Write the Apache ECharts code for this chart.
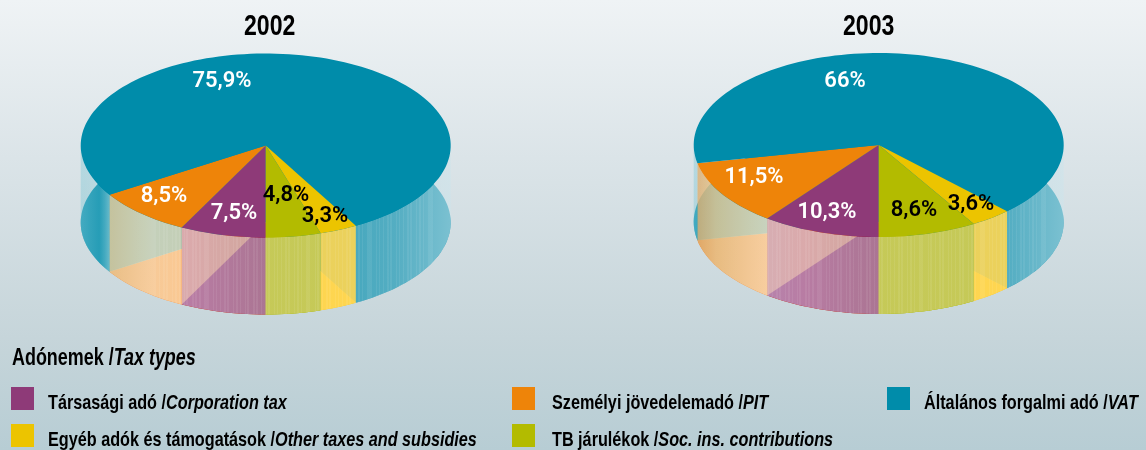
<!DOCTYPE html>
<html>
<head>
<meta charset="utf-8">
<style>html,body{margin:0;padding:0;background:#c8d6db}#c{width:1146px;height:450px}</style>
<script src="https://cdn.jsdelivr.net/npm/echarts@6/dist/echarts.min.js"></script>
</head>
<body>
<div id="c"></div>
<script>
// ---- data ----
const years = ['2002', '2003'];
const categoriesHu = ['Társasági adó', 'Személyi jövedelemadó', 'Általános forgalmi adó', 'Egyéb adók és támogatások', 'TB járulékok'];
const categoriesEn = ['Corporation tax', 'PIT', 'VAT', 'Other taxes and subsidies', 'Soc. ins. contributions'];
const values2002 = [7.5, 8.5, 75.9, 3.3, 4.8];
const values2003 = [10.3, 11.5, 66, 3.6, 8.6];
const legendTitleHu = 'Adónemek';
const legendTitleEn = 'Tax types';

// ---- styles and layout ----
const topColors = ['#8e3a78', '#ee8409', '#008caa', '#ecc400', '#b3bb00'];
const floorColors = ['rgb(150,0,30)', 'rgb(255,110,0)', 'rgb(0,140,170)', 'rgb(245,195,20)', 'rgb(175,185,20)'];
const underlayColors = { 0: 'rgb(240,120,50)', 4: 'rgb(175,185,20)' };
const labelColors = ['#fff', '#fff', '#fff', '#000', '#000'];
const FONT_LABEL = '600 22px Roboto, sans-serif';
const BOLD = '"Liberation Sans", sans-serif';
const pies = [
  { values: values2002, cx: 265.7, cy: 145.5, labels: [[222, 213], [164, 196], [222, 81], [325, 216], [286, 195]], titleX: 244 },
  { values: values2003, cx: 878.7, cy: 145, labels: [[827, 212], [754, 177], [845, 81], [971, 204], [914, 210]], titleX: 843 }
];
pies[0].labels[0][0] = 234;
const RX = 185, RY = 92, DEPTH = 77;
// wall tints over the cylinder's width (0 = left rim, 1 = right rim)
const wallStops = [
  [[0, 'rgba(193,207,255,.7)'], [.3, 'rgba(205,200,245,.62)'], [.5, 'rgba(185,195,225,.6)'], [1, 'rgba(185,195,225,.6)']],
  [[0, 'rgba(215,165,100,.85)'], [.06, 'rgba(225,195,140,.85)'], [.2, 'rgba(245,225,190,.8)'], [.3, 'rgba(250,225,185,.78)'], [1, 'rgba(250,225,185,.78)']],
  [[0, 'rgba(120,195,210,.45)'], [.05, 'rgba(90,180,200,.25)'], [.09, 'rgba(230,240,240,.6)'], [.6, 'rgba(170,205,215,.34)'], [.85, 'rgba(200,220,228,.42)'], [1, 'rgba(205,228,235,.6)']],
  [[0, 'rgba(255,215,85,.92)'], [1, 'rgba(255,215,85,.92)']],
  [[0, 'rgba(200,203,95,.9)'], [1, 'rgba(200,203,95,.9)']]
];
// irregular fine vertical streaks on the glass wall (widths as fractions of the cylinder)
const streakWidths = [.004, .007, .003, .009, .005, .002, .006, .011, .003, .005];

function edge(pie, deg, dy) {
  const r = deg * Math.PI / 180;
  return [pie.cx - RX * Math.sin(r), pie.cy + (dy || 0) + RY * Math.cos(r)];
}
function span(values, i) {
  const total = values.reduce((a, b) => a + b, 0);
  const before = values.slice(0, i).reduce((a, b) => a + b, 0);
  return [before / total * 360, (before + values[i]) / total * 360];
}
function sector(pie, a, b, dy) {
  const pts = [[pie.cx, pie.cy + (dy || 0)]];
  const n = Math.max(2, Math.ceil((b - a) / 2));
  for (let k = 0; k <= n; k++) pts.push(edge(pie, a + (b - a) * k / n, dy));
  return pts;
}
function wallPieces(a, b) {
  const out = [];
  if (a < 90) out.push([a, Math.min(b, 90)]);
  if (b > 270) out.push([Math.max(a, 270), b]);
  return out;
}
function wallPoly(pie, a, b) {
  const top = [], bottom = [];
  const n = Math.max(2, Math.ceil((b - a) / 2));
  for (let k = 0; k <= n; k++) {
    const d = a + (b - a) * k / n;
    top.push(edge(pie, d, 0));
    bottom.unshift(edge(pie, d, DEPTH));
  }
  return top.concat(bottom);
}
function wallFill(pie, i) {
  return new echarts.graphic.LinearGradient(pie.cx - RX, 0, pie.cx + RX, 0,
    wallStops[i].map(s => ({ offset: s[0], color: s[1] })), true);
}
function streakFill(pie) {
  const stops = [];
  let t = .2, k = 0;
  while (t < .96) {
    const w = streakWidths[k % streakWidths.length];
    const c = k % 2 ? 'rgba(255,255,255,0)' : 'rgba(255,255,255,.07)';
    stops.push({ offset: t, color: c }, { offset: t + w, color: c });
    t += w; k++;
  }
  return new echarts.graphic.LinearGradient(pie.cx - RX, 0, pie.cx + RX, 0, stops, true);
}

const series = [];
pies.forEach(pie => {
  const data = pie.values.map(v => [v]);
  const base = { type: 'custom', coordinateSystem: 'none', silent: true, animation: false, data };
  const floorPiece = i => {
    const s = span(pie.values, i);
    return { type: 'polygon', shape: { points: sector(pie, s[0], s[1], DEPTH) }, style: { fill: floorColors[i] } };
  };
  const none = { type: 'group', children: [] };
  // floor of the cylinder, seen through the glass wall: rear slices
  series.push(Object.assign({}, base, {
    z: 1,
    renderItem: p => (p.dataIndex === 0 || p.dataIndex === 4) ? none : floorPiece(p.dataIndex)
  }));
  // the front two walls hide what lies further back
  series.push(Object.assign({}, base, {
    z: 2,
    renderItem(p) {
      const i = p.dataIndex;
      if (i !== 0 && i !== 4) return none;
      const s = span(pie.values, i);
      return { type: 'polygon', shape: { points: wallPoly(pie, s[0], s[1]) }, style: { fill: underlayColors[i] } };
    }
  }));
  // floor: front slices
  series.push(Object.assign({}, base, {
    z: 3,
    renderItem: p => (p.dataIndex === 0 || p.dataIndex === 4) ? floorPiece(p.dataIndex) : none
  }));
  // wall
  series.push(Object.assign({}, base, {
    z: 4,
    renderItem(p) {
      const s = span(pie.values, p.dataIndex);
      const children = [];
      wallPieces(s[0], s[1]).forEach(w => {
        children.push({ type: 'polygon', shape: { points: wallPoly(pie, w[0], w[1]) }, style: { fill: wallFill(pie, p.dataIndex) } });
        children.push({ type: 'polygon', shape: { points: wallPoly(pie, w[0], w[1]) }, style: { fill: streakFill(pie) } });
      });
      return { type: 'group', children };
    }
  }));
  // top disc
  series.push(Object.assign({}, base, {
    z: 5,
    renderItem(p) {
      const s = span(pie.values, p.dataIndex);
      return { type: 'polygon', shape: { points: sector(pie, s[0], s[1], 0) }, style: { fill: topColors[p.dataIndex] } };
    }
  }));
  // percentages
  series.push(Object.assign({}, base, {
    z: 6,
    renderItem(p) {
      const i = p.dataIndex;
      return {
        type: 'text',
        style: {
          text: String(pie.values[i]).replace('.', ',') + '%',
          x: pie.labels[i][0], y: pie.labels[i][1], fill: labelColors[i],
          font: FONT_LABEL, textAlign: 'center', textVerticalAlign: 'middle'
        }
      };
    }
  }));
});

const graphic = [];
pies.forEach((pie, i) => graphic.push({
  type: 'text', x: pie.titleX, y: 12, scaleX: .77, z: 5,
  style: { text: years[i], font: 'bold 30px ' + BOLD, fill: '#000' }
}));
const legendSlots = [[0, 0], [1, 0], [2, 0], [0, 1], [1, 1]]; // col,row per legend entry
const colX = [11, 512, 887], textX = [48, 552, 924], rowY = [387, 424];
const richText = {
  hu: { font: 'bold 21px ' + BOLD, fill: '#000' },
  en: { font: 'italic bold 21px ' + BOLD, fill: '#000' }
};
graphic.push({
  type: 'text', x: 12, y: 347, scaleX: .78, z: 5,
  style: { text: '{hu|' + legendTitleHu + ' /}{en|' + legendTitleEn + '}', rich: { hu: { font: 'bold 23px ' + BOLD, fill: '#000' }, en: { font: 'italic bold 23px ' + BOLD, fill: '#000' } } }
});
legendSlots.forEach((slot, c) => {
  const col = slot[0], row = slot[1];
  graphic.push({ type: 'rect', x: colX[col], y: rowY[row], shape: { width: 23, height: 23 }, style: { fill: topColors[c] }, z: 5 });
  graphic.push({
    type: 'text', x: textX[col], y: rowY[row] + 6, scaleX: .772, z: 5,
    style: { text: '{hu|' + categoriesHu[c] + ' /}{en|' + categoriesEn[c] + '}', rich: richText }
  });
});

const chart = echarts.init(document.getElementById('c'), null, { renderer: 'canvas', width: 1146, height: 450 });
chart.setOption({
  animation: false,
  backgroundColor: new echarts.graphic.LinearGradient(0, 0, 0, 1, [
    { offset: 0, color: '#eff3f5' }, { offset: .35, color: '#dbe4e8' }, { offset: .75, color: '#c6d5da' }, { offset: 1, color: '#b7cdd4' }
  ]),
  graphic,
  series
});
</script>
</body>
</html>
